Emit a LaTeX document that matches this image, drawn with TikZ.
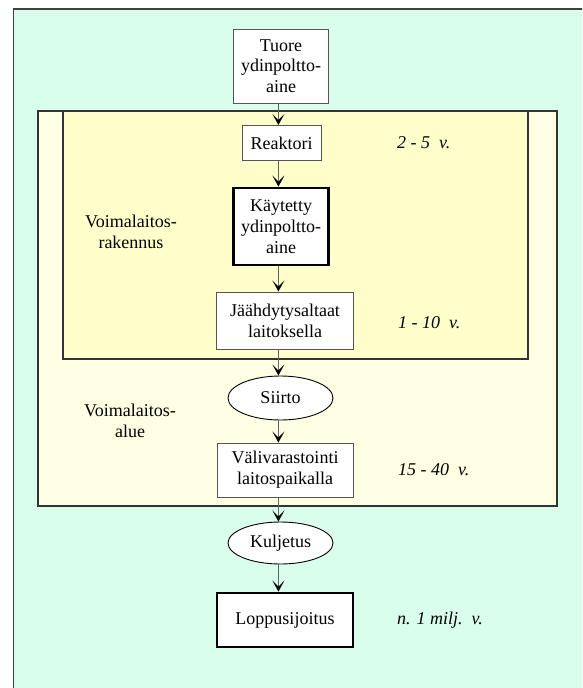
\documentclass[tikz,border=0pt]{standalone}
\usepackage{fontspec}
\setmainfont{Liberation Serif}
\usetikzlibrary{arrows.meta,shapes.geometric}
\definecolor{mint}{HTML}{D9FFEC}
\definecolor{paleyel}{HTML}{FFFFE3}
\definecolor{inyel}{HTML}{FFFFCC}
\definecolor{arrgray}{HTML}{5A6660}
\definecolor{boxgray}{HTML}{555555}
\tikzset{
  stepbox/.style={draw=boxgray, line width=1pt, fill=white, rectangle, inner sep=0pt, align=center},
  boldbox/.style={draw=black, line width=2.8pt, fill=white, rectangle, inner sep=0pt, align=center},
  ovalbox/.style={draw=black, line width=0.9pt, fill=white, ellipse, inner sep=0pt, align=center},
  flowarr/.style={draw=arrgray, line width=1.3pt, -{Stealth[color=black, length=11pt, width=12pt, inset=6pt]}},
  areabox/.style={draw=black!80, line width=1.2pt},
  arealabel/.style={align=center},
  timelabel/.style={anchor=west, font=\fontsize{18}{20.7}\selectfont\itshape, inner sep=0pt}
}
\begin{document}
\begin{tikzpicture}[x=1pt, y=-1pt, font=\fontsize{18}{20.7}\selectfont]
\useasboundingbox (0,0) rectangle (582,688);
\clip (0,0) rectangle (582,688);
\fill[white] (0,0) rectangle (582,688);
\draw[areabox, draw=black!75, fill=mint] (13.4,9) rectangle (620,720);
\draw[areabox, fill=paleyel] (38,111) rectangle (557,506);
\draw[areabox, fill=inyel] (63,111) rectangle (528,359);

\coordinate (ax) at (278.4,0);

\node[stepbox, minimum width=94.5pt, minimum height=74pt] (tuore) at (281,66) {Tuore\\ydinpoltto-\\aine};
\node[stepbox, minimum width=79pt, minimum height=35pt] (reaktori) at (281.5,143) {Reaktori};
\node[boldbox, minimum width=94.5pt, minimum height=77pt] (kaytetty) at (281,226.5) {Käytetty\\ydinpoltto-\\aine};
\node[stepbox, minimum width=137pt, minimum height=57pt] (jaah) at (285,320.5) {Jäähdytysaltaat\\laitoksella};
\node[ovalbox, minimum width=105pt, minimum height=44pt] (siirto) at (280.5,398) {Siirto};
\node[stepbox, minimum width=136pt, minimum height=54pt] (vali) at (285,470) {Välivarastointi\\laitospaikalla};
\node[ovalbox, minimum width=105pt, minimum height=42pt] (kulj) at (280.5,543) {Kuljetus};
\node[boldbox, minimum width=136pt, minimum height=54pt] (lopp) at (285,620) {Loppusijoitus};

\node[arealabel] (lblrak) at (131,232) {Voimalaitos-\\rakennus};
\node[arealabel] (lblalue) at (130,421) {Voimalaitos-\\alue};

\node[timelabel] (t1) at (397,143) {2 - 5\ \ v.};
\node[timelabel] (t2) at (398,323) {1 - 10\ \ v.};
\node[timelabel] (t3) at (398,470) {15 - 40\ \ v.};
\node[timelabel] (t4) at (397,620) {n. 1 milj.\ \ v.};

\draw[flowarr] (tuore.south -| ax) -- (reaktori.north -| ax);
\draw[flowarr] (reaktori.south -| ax) -- (kaytetty.north -| ax);
\draw[flowarr] (kaytetty.south -| ax) -- (jaah.north -| ax);
\draw[flowarr] (jaah.south -| ax) -- (siirto.north -| ax);
\draw[flowarr] (siirto.south -| ax) -- (vali.north -| ax);
\draw[flowarr] (vali.south -| ax) -- (kulj.north -| ax);
\draw[flowarr] (kulj.south -| ax) -- (lopp.north -| ax);
\end{tikzpicture}
\end{document}
